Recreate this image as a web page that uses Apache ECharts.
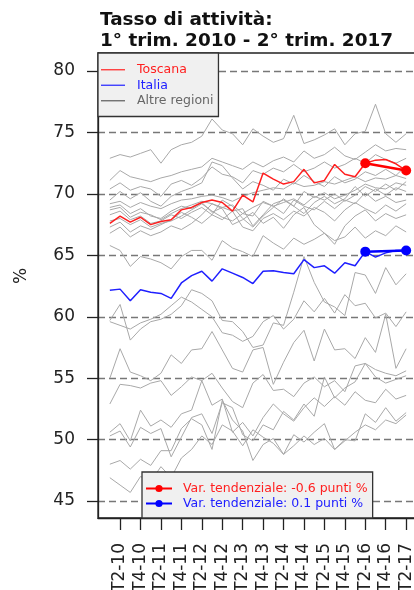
<!DOCTYPE html>
<html>
<head>
<meta charset="utf-8">
<script src="https://cdn.jsdelivr.net/npm/echarts@6/dist/echarts.min.js"></script>
<style>
  html, body { margin: 0; padding: 0; background: #fff; }
  #chart { width: 414px; height: 590px; }
</style>
</head>
<body>
<div id="chart"></div>
<script>
// quarters, T1-10 .. T2-17
const quarters = [
  'T1-10', 'T2-10', 'T3-10', 'T4-10', 'T1-11', 'T2-11', 'T3-11', 'T4-11',
  'T1-12', 'T2-12', 'T3-12', 'T4-12', 'T1-13', 'T2-13', 'T3-13', 'T4-13',
  'T1-14', 'T2-14', 'T3-14', 'T4-14', 'T1-15', 'T2-15', 'T3-15', 'T4-15',
  'T1-16', 'T2-16', 'T3-16', 'T4-16', 'T1-17', 'T2-17'
];
const tickLabels = [
  'T2-10', 'T4-10', 'T2-11', 'T4-11', 'T2-12', 'T4-12', 'T2-13', 'T4-13',
  'T2-14', 'T4-14', 'T2-15', 'T4-15', 'T2-16', 'T4-16', 'T2-17'
];
const yTicks = [45, 50, 55, 60, 65, 70, 75, 80];

const toscana = [67.6, 68.2, 67.7, 68.1, 67.5, 67.75, 67.9, 68.7, 68.9, 69.3,
  69.5, 69.3, 68.6, 69.9, 69.35, 71.7, 71.2, 70.8, 71.0, 72.0,
  70.9, 71.1, 72.4, 71.6, 71.4, 72.5, 72.75, 72.8, 72.45, 71.9];
const italia = [62.15, 62.25, 61.3, 62.2, 62.0, 61.9, 61.5, 62.75, 63.35, 63.7,
  62.9, 63.9, 63.55, 63.2, 62.7, 63.7, 63.75, 63.6, 63.5, 64.65,
  64.0, 64.15, 63.55, 64.4, 64.15, 65.3, 64.85, 65.2, 65.4, 65.4];

// altre regioni
const reg01 = [72.9, 73.2, 73.0, 73.3, 73.6, 72.5, 73.6, 74.0, 74.2, 74.7, 76.1, 75.2, 74.9, 74.0, 75.3, 74.7, 74.2, 74.5, 76.4, 74.1, 74.4, 74.8, 75.3, 74.0, 74.9, 75.1, 77.3, 74.9, 74.2, 74.9];
const reg02 = [71.1, 71.9, 71.4, 71.2, 71.0, 71.3, 71.5, 71.8, 72.0, 72.2, 72.9, 72.6, 72.3, 72.0, 72.6, 72.2, 72.7, 73.0, 72.6, 73.5, 72.9, 73.2, 73.8, 73.1, 72.8, 73.4, 74.0, 73.5, 73.7, 73.6];
const reg03 = [70.4, 70.9, 70.3, 70.6, 70.4, 69.8, 70.8, 71.1, 70.7, 71.3, 72.2, 71.6, 71.4, 70.9, 71.9, 71.6, 72.1, 71.8, 72.4, 71.8, 72.1, 72.6, 72.1, 72.4, 72.9, 72.5, 73.2, 72.8, 72.5, 72.9];
const reg04 = [69.5, 70.2, 69.6, 70.1, 69.4, 69.0, 69.8, 70.2, 70.5, 70.9, 72.6, 72.3, 71.3, 70.4, 71.0, 70.7, 70.3, 71.2, 70.8, 71.5, 71.0, 70.6, 71.4, 70.9, 71.2, 71.8, 71.5, 72.0, 71.5, 72.3];
const reg05 = [69.2, 69.4, 68.9, 69.3, 69.0, 68.8, 69.2, 69.5, 69.6, 69.8, 69.9, 69.7, 69.4, 69.8, 70.1, 70.3, 70.5, 70.4, 70.9, 70.6, 70.7, 71.0, 70.8, 71.1, 71.4, 71.0, 71.3, 71.2, 71.5, 71.25];
const reg06 = [68.9, 69.1, 68.4, 68.8, 68.2, 68.0, 68.6, 69.0, 68.8, 69.3, 68.5, 68.9, 69.1, 68.4, 68.2, 69.4, 69.0, 69.3, 69.6, 69.1, 69.8, 69.5, 70.0, 69.4, 69.9, 70.6, 70.2, 70.8, 70.3, 71.0];
const reg07 = [68.7, 68.9, 68.1, 68.5, 68.3, 67.9, 68.4, 68.8, 69.1, 69.4, 69.2, 68.9, 68.6, 68.8, 67.4, 68.3, 69.2, 69.5, 69.0, 70.2, 69.7, 70.1, 69.6, 69.9, 70.3, 70.8, 70.5, 70.4, 70.9, 70.7];
const reg08 = [68.3, 68.6, 67.9, 68.2, 67.6, 67.8, 68.3, 68.0, 68.5, 68.9, 68.3, 69.5, 69.0, 68.0, 67.3, 68.2, 68.9, 69.6, 69.0, 68.4, 69.3, 69.8, 69.2, 69.6, 70.6, 69.8, 70.4, 69.9, 70.5, 70.2];
const reg09 = [67.8, 68.0, 67.5, 67.9, 67.3, 67.6, 67.8, 68.2, 68.7, 69.2, 68.6, 68.1, 67.8, 68.4, 68.9, 69.3, 69.0, 68.4, 69.5, 69.0, 68.7, 69.4, 68.8, 69.5, 69.2, 70.1, 69.4, 69.8, 69.3, 69.5];
const reg10 = [67.3, 67.7, 66.9, 67.4, 67.1, 67.5, 67.9, 68.5, 68.1, 67.6, 68.3, 67.9, 68.6, 67.3, 67.0, 68.0, 68.4, 67.9, 68.6, 68.2, 68.9, 68.5, 67.8, 68.7, 69.3, 68.8, 68.4, 69.1, 68.6, 69.2];
const reg11 = [66.8, 67.3, 66.5, 67.0, 66.6, 66.9, 67.4, 67.1, 67.6, 68.3, 69.2, 68.8, 67.5, 67.9, 68.5, 67.6, 68.1, 67.2, 68.3, 68.9, 67.5, 66.8, 65.9, 67.4, 68.2, 68.7, 67.8, 68.4, 68.0, 68.3];
const reg12 = [65.8, 65.4, 64.1, 64.9, 64.7, 64.4, 63.9, 64.9, 65.4, 65.4, 64.6, 66.2, 65.6, 65.3, 64.9, 66.6, 66.0, 65.5, 66.4, 65.9, 66.3, 66.8, 66.2, 66.5, 67.3, 66.4, 67.0, 66.6, 67.4, 66.9];
const reg13 = [59.7, 61.0, 58.1, 59.0, 59.6, 59.8, 60.2, 60.9, 62.2, 61.9, 61.3, 59.7, 59.6, 58.8, 57.5, 57.7, 59.5, 59.3, 62.0, 64.9, 62.8, 61.2, 60.8, 60.1, 63.6, 63.4, 61.9, 64.0, 62.6, 63.5];
const reg14 = [59.6, 59.3, 59.0, 59.5, 59.8, 60.2, 60.9, 61.6, 61.2, 60.6, 60.0, 58.7, 58.5, 58.0, 58.4, 59.6, 60.1, 59.0, 59.8, 61.3, 60.4, 61.5, 60.3, 61.8, 60.9, 61.1, 59.9, 60.3, 59.2, 60.4];
const reg15 = [55.0, 57.4, 55.5, 55.2, 54.8, 55.4, 56.9, 56.2, 57.3, 57.4, 58.8, 57.3, 55.8, 55.5, 57.3, 57.5, 54.5, 56.3, 57.9, 58.9, 56.4, 59.0, 57.3, 57.4, 56.6, 58.3, 57.1, 60.2, 55.8, 57.4];
const reg16 = [52.9, 54.5, 54.4, 54.2, 54.6, 54.8, 53.6, 54.3, 55.1, 54.8, 55.4, 54.2, 53.1, 52.6, 54.6, 55.3, 54.0, 54.1, 53.5, 54.6, 55.1, 54.3, 54.8, 53.9, 56.0, 56.2, 55.7, 55.4, 55.2, 55.6];
const reg17 = [50.6, 51.3, 49.9, 52.4, 51.1, 51.6, 51.0, 52.1, 52.4, 54.8, 52.8, 53.3, 50.6, 51.4, 50.3, 51.8, 52.9, 52.1, 51.5, 52.6, 53.4, 52.7, 53.5, 52.8, 53.9, 53.2, 53.0, 54.1, 53.3, 53.6];
const reg18 = [50.3, 50.7, 49.4, 51.0, 50.5, 50.9, 48.6, 50.2, 51.8, 52.1, 50.5, 53.0, 52.6, 50.4, 49.9, 51.2, 50.8, 52.3, 51.6, 52.9, 51.9, 55.1, 53.4, 54.2, 54.7, 56.2, 55.1, 54.6, 54.9, 55.2];
const reg19 = [48.0, 48.3, 47.6, 48.4, 47.9, 49.1, 49.1, 50.9, 51.7, 51.2, 49.2, 53.2, 51.6, 50.7, 48.3, 49.6, 50.1, 48.8, 50.4, 49.8, 50.6, 51.3, 49.2, 50.0, 49.9, 52.1, 51.4, 52.6, 51.5, 52.2];
const reg20 = [46.9, 46.3, 45.7, 47.0, 46.6, 47.8, 46.9, 48.5, 49.2, 50.3, 49.6, 51.2, 50.7, 49.5, 50.8, 50.2, 49.7, 48.8, 49.5, 50.3, 49.6, 50.1, 49.2, 49.9, 50.6, 51.2, 50.8, 51.6, 51.3, 52.0];
const otherRegions = [reg01, reg02, reg03, reg04, reg05, reg06, reg07, reg08, reg09, reg10,
  reg11, reg12, reg13, reg14, reg15, reg16, reg17, reg18, reg19, reg20];

// variazione tendenziale: T2-16 -> T2-17
const varQuarters = ['T2-16', 'T2-17'];

const FONT = 'DejaVu Sans';
const pts = arr => arr.map((v, i) => [i, v]);
const varPts = arr => varQuarters.map(q => { const i = quarters.indexOf(q); return [i, arr[i]]; });
const varText = arr => {
  const p = varPts(arr);
  return 'Var. tendenziale: ' + (p[1][1] - p[0][1]).toFixed(1) + ' punti %';
};
const varTos = varText(toscana);
const varIta = varText(italia);

const series = [];
otherRegions.forEach(r => {
  series.push({
    name: 'Altre regioni', type: 'line', data: pts(r),
    showSymbol: false, symbol: 'none', silent: true,
    lineStyle: { color: '#a8a8a8', width: 1 }, itemStyle: { color: '#a8a8a8' }, z: 2
  });
});
series.push({
  name: 'Italia', type: 'line', data: pts(italia), symbol: 'none',
  lineStyle: { color: '#1f1fff', width: 1.5 }, itemStyle: { color: 'blue' }, z: 3
});
series.push({
  name: 'Toscana', type: 'line', data: pts(toscana), symbol: 'none',
  lineStyle: { color: '#ff1f1f', width: 1.5 }, itemStyle: { color: 'red' }, z: 3
});
series.push({
  name: varTos, type: 'line', data: varPts(toscana), symbol: 'circle', symbolSize: 10,
  lineStyle: { color: 'red', width: 2.5 }, itemStyle: { color: 'red' }, z: 4
});
series.push({
  name: varIta, type: 'line', data: varPts(italia), symbol: 'circle', symbolSize: 10,
  lineStyle: { color: 'blue', width: 2.5 }, itemStyle: { color: 'blue' }, z: 4
});

const chart = echarts.init(document.getElementById('chart'));
chart.setOption({
  animation: false,
  textStyle: { fontFamily: FONT },
  title: {
    text: 'Tasso di attività:\n1° trim. 2010 - 2° trim. 2017',
    left: 100, top: 10, padding: 0,
    textStyle: { fontFamily: FONT, fontSize: 18.4, fontWeight: 'bold', color: '#111', lineHeight: 21 }
  },
  grid: {
    left: 98, right: -4, top: 53, bottom: 72,
    show: true, borderColor: '#222', borderWidth: 1.3,
    outerBoundsMode: 'none', containLabel: false
  },
  legend: [
    {
      orient: 'vertical', left: 98, top: 53,
      backgroundColor: '#f0f0f0', borderColor: '#333', borderWidth: 1.3, borderRadius: 0,
      padding: [9, 5, 8, 3],
      itemWidth: 24, itemHeight: 1.3, itemGap: 0, icon: 'rect',
      selectedMode: false,
      textStyle: { fontFamily: FONT, fontSize: 12.5, lineHeight: 15.5, padding: [0, 0, 0, 7] },
      data: [
        { name: 'Toscana', itemStyle: { color: '#ff3030' }, textStyle: { color: '#ff2020' } },
        { name: 'Italia', itemStyle: { color: '#3030ff' }, textStyle: { color: '#2020ff' } },
        { name: 'Altre regioni', itemStyle: { color: '#666' }, textStyle: { color: '#666' } }
      ]
    },
    {
      orient: 'vertical', left: 142, top: 472,
      backgroundColor: '#f0f0f0', borderColor: '#333', borderWidth: 1.3, borderRadius: 0,
      padding: [9, 5, 7, 3],
      itemWidth: 26, itemHeight: 9, itemGap: 0,
      selectedMode: false,
      textStyle: { fontFamily: FONT, fontSize: 12.5, lineHeight: 15, padding: [0, 0, 0, 6] },
      data: [
        { name: varTos, textStyle: { color: '#ff2020' } },
        { name: varIta, textStyle: { color: '#2020ff' } }
      ]
    }
  ],
  xAxis: {
    type: 'value', min: -1.16, max: 30.16,
    axisLine: { show: true, onZero: false, lineStyle: { color: '#222', width: 1.3 } },
    axisTick: {
      show: true, length: 12, lineStyle: { color: '#222', width: 1.3 },
      customValues: tickLabels.map(l => quarters.indexOf(l))
    },
    axisLabel: {
      rotate: 90, margin: 25, fontSize: 17, color: '#222', fontFamily: FONT,
      customValues: tickLabels.map(l => quarters.indexOf(l)),
      formatter: v => quarters[Math.round(v)]
    },
    splitLine: { show: false }
  },
  yAxis: {
    type: 'value', min: 43.62, max: 81.47,
    name: '%', nameLocation: 'middle', nameGap: 68,
    nameTextStyle: { fontSize: 17, color: '#222', fontFamily: FONT, padding: [0, 0, 0, 19] },
    axisLine: { show: true, onZero: false, lineStyle: { color: '#222', width: 1.3 } },
    axisTick: { show: true, length: 11, lineStyle: { color: '#222', width: 1.3 }, customValues: yTicks },
    axisLabel: { margin: 23, fontSize: 17, color: '#222', fontFamily: FONT, customValues: yTicks },
    splitLine: { show: true, lineStyle: { color: '#777', width: 1.3, type: [7, 4] } }
  },
  series: series
});
</script>
</body>
</html>
